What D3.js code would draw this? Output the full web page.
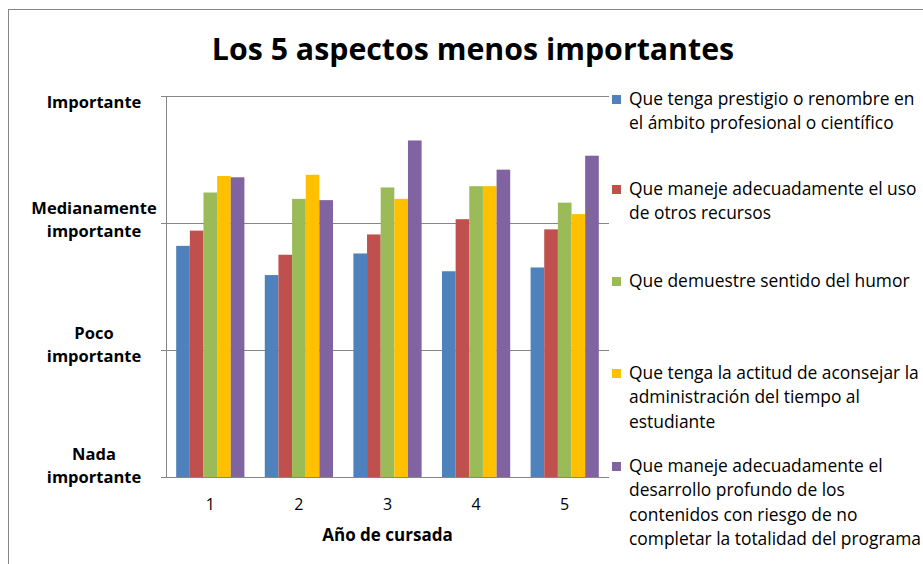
<!DOCTYPE html>
<html>
<head>
<meta charset="utf-8">
<script src="https://d3js.org/d3.v7.min.js"></script>
<style>
  body { margin: 0; background: #fff; }
  text { font-family: "Open Sans", Lato, sans-serif; fill: #000; }
</style>
</head>
<body>
<div id="chart"></div>
<script>
// data (1 = Nada importante ... 4 = Importante)
var years = ['1', '2', '3', '4', '5'];
var series = [
  'Que tenga prestigio o renombre en el ámbito profesional o científico',
  'Que maneje adecuadamente el uso de otros recursos',
  'Que demuestre sentido del humor',
  'Que tenga la actitud de aconsejar la administración del tiempo al estudiante',
  'Que maneje adecuadamente el desarrollo profundo de los contenidos con riesgo de no completar la totalidad del programa'
];
var legendLines = [
  ['Que tenga prestigio o renombre en', 'el ámbito profesional o científico'],
  ['Que maneje adecuadamente el uso', 'de otros recursos'],
  ['Que demuestre sentido del humor'],
  ['Que tenga la actitud de aconsejar la', 'administración del tiempo al', 'estudiante'],
  ['Que maneje adecuadamente el', 'desarrollo profundo de los', 'contenidos con riesgo de no', 'completar la totalidad del programa']
];
var prestigio   = [2.82, 2.59, 2.76, 2.62, 2.65];
var recursos    = [2.94, 2.75, 2.91, 3.03, 2.95];
var humor       = [3.24, 3.19, 3.28, 3.29, 3.16];
var tiempo      = [3.37, 3.38, 3.19, 3.29, 3.07];
var desarrollo  = [3.36, 3.18, 3.65, 3.42, 3.53];
var values = [prestigio, recursos, humor, tiempo, desarrollo];
var colors = ['#4F81BD', '#C0504D', '#9BBB59', '#FFC000', '#8064A2'];
var yTicks = [1, 2, 3, 4];
var yTickLabels = [['Nada', 'importante'], ['Poco', 'importante'], ['Medianamente', 'importante'], ['Importante']];

var width = 923, height = 564;
var svg = d3.select('#chart').append('svg')
  .attr('width', width)
  .attr('height', height);

// chart frame
svg.append('rect')
  .attr('x', 8.5).attr('y', 9.5)
  .attr('width', 940).attr('height', 600)
  .attr('fill', 'none')
  .attr('stroke', '#868686');

var plot = { left: 166, right: 609, top: 96, bottom: 477 };

var x = d3.scaleBand()
  .domain(years)
  .range([plot.left, plot.right])
  .paddingInner(0.23)
  .paddingOuter(0.115);

var xs = d3.scaleBand()
  .domain(d3.range(series.length))
  .range([0, x.bandwidth()]);

var y = d3.scaleLinear()
  .domain([1, 4])
  .range([plot.bottom, plot.top]);

// gridlines
svg.append('g')
  .selectAll('line')
  .data(yTicks.slice(1))
  .join('line')
  .attr('x1', plot.left - 5).attr('x2', plot.right)
  .attr('y1', function (d) { return Math.round(y(d)) + 0.5; })
  .attr('y2', function (d) { return Math.round(y(d)) + 0.5; })
  .attr('stroke', '#868686');

// bars
var groups = svg.append('g')
  .selectAll('g')
  .data(values)
  .join('g')
  .attr('fill', function (d, i) { return colors[i]; });

groups.each(function (vals, si) {
  d3.select(this).selectAll('rect')
    .data(vals)
    .join('rect')
    .attr('x', function (d, i) { return x(years[i]) + xs(si); })
    .attr('width', xs.bandwidth())
    .attr('y', function (d) { return y(d); })
    .attr('height', function (d) { return y(1) - y(d); });
});

// axes lines
svg.append('line')
  .attr('x1', plot.left + 0.5).attr('x2', plot.left + 0.5)
  .attr('y1', plot.top).attr('y2', plot.bottom)
  .attr('stroke', '#868686');
svg.append('line')
  .attr('x1', plot.left - 5).attr('x2', plot.right)
  .attr('y1', plot.bottom + 0.5).attr('y2', plot.bottom + 0.5)
  .attr('stroke', '#868686');

// y tick labels (first line offset from its gridline)
var labelOffset = [-17, -11, -9, 12];
var yl = svg.append('g')
  .selectAll('text')
  .data(yTicks)
  .join('text')
  .attr('text-anchor', 'middle')
  .attr('font-size', 16.5)
  .attr('font-weight', 'bold')
  .attr('x', 94)
  .attr('y', function (d, i) { return y(d) + labelOffset[i]; });
yl.each(function (d, i) {
  var t = d3.select(this);
  yTickLabels[i].forEach(function (line, k) {
    t.append('tspan').attr('x', 94).attr('dy', k === 0 ? 0 : 23).text(line);
  });
});

// x tick labels
svg.append('g')
  .selectAll('text')
  .data(years)
  .join('text')
  .attr('text-anchor', 'middle')
  .attr('font-size', 16)
  .attr('x', function (d) { return x(d) + x.bandwidth() / 2; })
  .attr('y', 510)
  .text(function (d) { return d; });

svg.append('text')
  .attr('text-anchor', 'middle')
  .attr('font-size', 17)
  .attr('font-weight', 'bold')
  .attr('x', (plot.left + plot.right) / 2)
  .attr('y', 541)
  .text('Año de cursada');

// title
svg.append('text')
  .attr('text-anchor', 'middle')
  .attr('font-size', 30.3)
  .attr('font-weight', 'bold')
  .attr('x', 473)
  .attr('y', 60)
  .text('Los 5 aspectos menos importantes');

// legend
var legendY = [105, 195, 287, 379, 472];
var legend = svg.append('g')
  .selectAll('g')
  .data(series)
  .join('g')
  .attr('transform', function (d, i) { return 'translate(612,' + legendY[i] + ')'; });

legend.append('rect')
  .attr('x', 0).attr('y', -10)
  .attr('width', 9).attr('height', 9)
  .attr('fill', function (d, i) { return colors[i]; });

legend.append('text')
  .attr('font-size', 17.4)
  .each(function (d, i) {
    var t = d3.select(this);
    legendLines[i].forEach(function (line, k) {
      t.append('tspan').attr('x', 17).attr('y', k * 24.3).text(line);
    });
  });
</script>
</body>
</html>
